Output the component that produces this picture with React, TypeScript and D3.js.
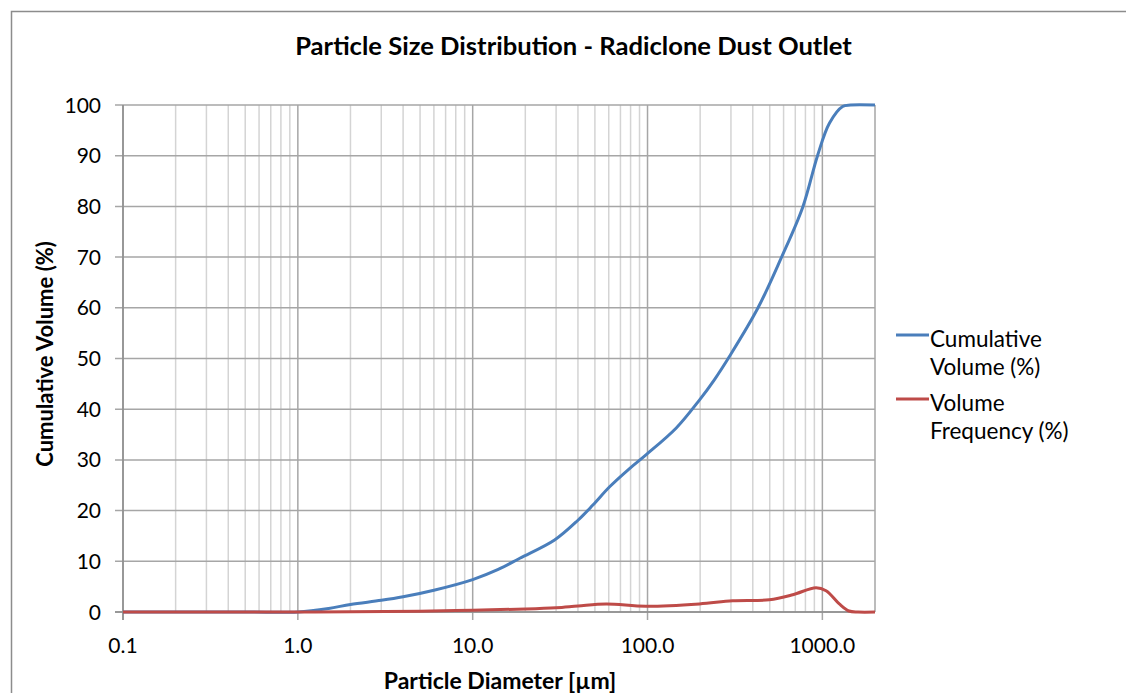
import React from "react";
import * as d3 from "d3";

// particle diameter (µm) vs cumulative volume (%)
const cumDiameter = [0.1, 0.5, 1.0, 1.5, 2, 3, 4, 6, 10, 14, 18.6, 29.4, 40, 48.7, 60.7, 78.9, 98, 146, 198, 241, 294, 427, 581, 773, 940, 1097, 1305, 1450, 2000];
const cumVolume = [0, 0, 0, 0.7, 1.5, 2.3, 3.0, 4.3, 6.4, 8.4, 10.6, 14.2, 18.1, 21.1, 24.7, 28.3, 31.0, 36.3, 41.8, 45.8, 50.4, 59.9, 69.8, 79.9, 90.1, 96.4, 99.7, 100, 100];

// particle diameter (µm) vs volume frequency (%)
const freqDiameter = [0.1, 0.5, 1.0, 2, 5, 10, 20, 30, 40, 58, 98, 198, 307, 497, 677, 920, 1050, 1250, 1420, 1600, 2000];
const freqVolume = [0, 0, 0, 0.05, 0.15, 0.35, 0.6, 0.85, 1.2, 1.6, 1.15, 1.6, 2.2, 2.4, 3.4, 4.8, 4.2, 1.6, 0.2, 0, 0];

const xTicks = [0.1, 1, 10, 100, 1000];
const yTicks = [0, 10, 20, 30, 40, 50, 60, 70, 80, 90, 100];

const seriesNames = ["Cumulative|Volume (%)", "Volume|Frequency (%)"];
const BLUE = "#4A7EBB";
const RED = "#BE4B48";

const width = 1126;
const height = 693;
const margin = { left: 123, right: 251, top: 105, bottom: 81 };
const font = "Lato, 'Open Sans', sans-serif";

const App = () => {
  const x = d3
    .scaleLog()
    .domain([0.1, 2000])
    .range([margin.left, width - margin.right]);

  const y = d3
    .scaleLinear()
    .domain([0, 100])
    .range([height - margin.bottom, margin.top]);

  const line = d3
    .line<[number, number]>()
    .x((d) => x(d[0]))
    .y((d) => y(d[1]))
    .curve(d3.curveCatmullRom.alpha(0.5));

  const cumPath = line(cumDiameter.map((d, i) => [d, cumVolume[i]]));
  const freqPath = line(freqDiameter.map((d, i) => [d, freqVolume[i]]));

  // minor log gridlines 2..9 in every decade
  const minor: number[] = [];
  for (let e = -1; e <= 3; e++) {
    for (let m = 2; m <= 9; m++) {
      const v = m * Math.pow(10, e);
      if (v < 2000) minor.push(v);
    }
  }

  const [x0, x1] = x.range();
  const [yb, yt] = y.range();

  return (
    <div style={{ position: "absolute", left: 0, top: 0 }}>
      <svg width={width} height={height} style={{ display: "block", fontFamily: font }}>
        <rect x={0} y={0} width={width} height={height} fill="#fff" />
        <rect x={11.5} y={11.5} width={1200} height={800} fill="none" stroke="#8c8c8c" strokeWidth={1.5} />

        {/* minor vertical grid */}
        {minor.map((v) => (
          <line key={"m" + v} x1={x(v)} x2={x(v)} y1={yt} y2={yb} stroke="#d4d4d4" strokeWidth={1.5} />
        ))}
        {/* major vertical grid */}
        {xTicks.map((v) => (
          <line key={"M" + v} x1={x(v)} x2={x(v)} y1={yt} y2={yb + 8} stroke="#a6a6a6" strokeWidth={1.5} />
        ))}
        {/* horizontal grid */}
        {yTicks.map((v) => (
          <line key={"h" + v} x1={x0 - 8} x2={x1} y1={y(v)} y2={y(v)} stroke="#a6a6a6" strokeWidth={1.5} />
        ))}
        <line x1={x1} x2={x1} y1={yt} y2={yb} stroke="#a6a6a6" strokeWidth={1.5} />
        <line x1={x0} x2={x0} y1={yt} y2={yb + 8} stroke="#8c8c8c" strokeWidth={1.5} />
        <line x1={x0 - 8} x2={x1} y1={yb} y2={yb} stroke="#8c8c8c" strokeWidth={1.5} />

        {/* series */}
        <path d={cumPath ?? ""} fill="none" stroke={BLUE} strokeWidth={3} strokeLinejoin="round" />
        <path d={freqPath ?? ""} fill="none" stroke={RED} strokeWidth={3} strokeLinejoin="round" />

        {/* y tick labels */}
        {yTicks.map((v) => (
          <text key={"yl" + v} x={x0 - 22} y={y(v) + 7.5} textAnchor="end" fontSize={21} fill="#000">
            {v}
          </text>
        ))}
        {/* x tick labels */}
        {xTicks.map((v) => (
          <text key={"xl" + v} x={x(v)} y={yb + 41} textAnchor="middle" fontSize={21} fill="#000">
            {v.toFixed(1)}
          </text>
        ))}

        <text x={573.5} y={55} textAnchor="middle" fontSize={25.6} fontWeight="bold" fill="#000">
          Particle Size Distribution - Radiclone Dust Outlet
        </text>
        <text x={500} y={689} textAnchor="middle" fontSize={23} fontWeight="bold" fill="#000">
          Particle Diameter [µm]
        </text>
        <text
          transform={`translate(53,354) rotate(-90)`}
          textAnchor="middle"
          fontSize={22}
          fontWeight="bold"
          fill="#000"
        >
          Cumulative Volume (%)
        </text>

        {/* legend */}
        {seriesNames.map((name, i) => {
          const ly = 335 + i * 64;
          const [a, b] = name.split("|");
          return (
            <g key={name}>
              <line x1={896} x2={929} y1={ly} y2={ly} stroke={i === 0 ? BLUE : RED} strokeWidth={3} />
              <text x={930} y={ly + 12} fontSize={22.5} fill="#000">
                {a}
              </text>
              <text x={930} y={ly + 40} fontSize={22.5} fill="#000">
                {b}
              </text>
            </g>
          );
        })}
      </svg>
    </div>
  );
};

export default App;
